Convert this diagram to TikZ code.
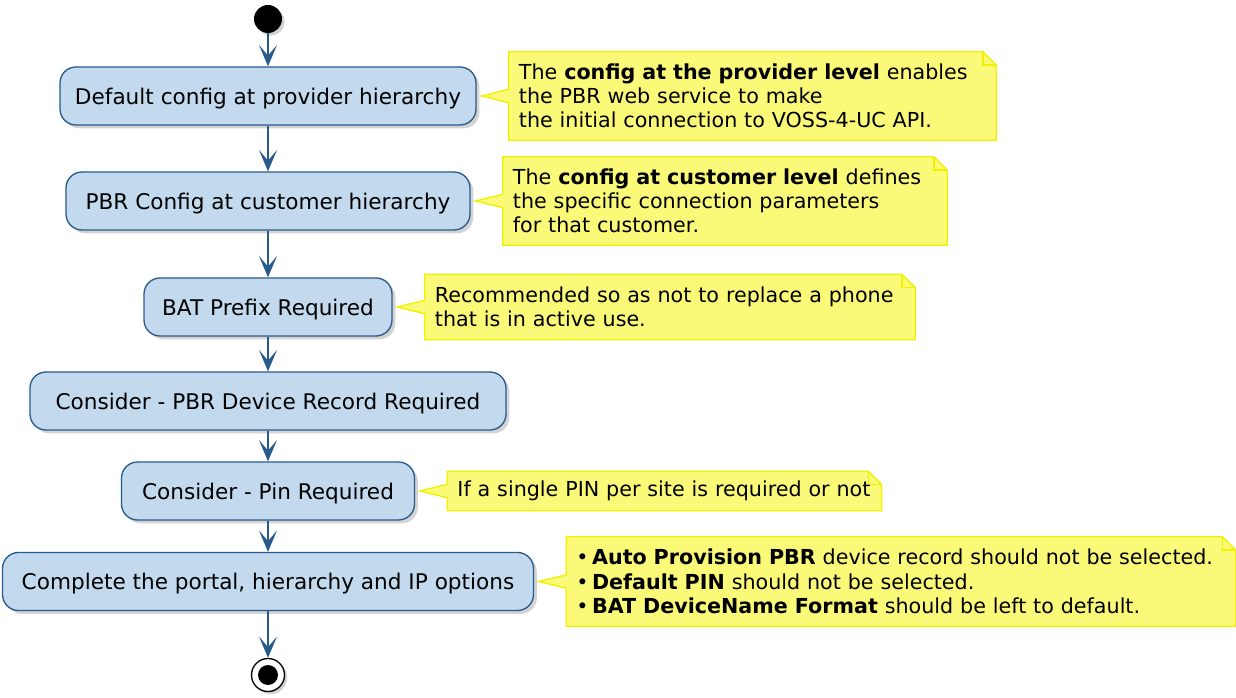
\documentclass[tikz,border=0pt]{standalone}
\usepackage{fontspec}
\setmainfont{DejaVu Sans}
\usetikzlibrary{arrows.meta,positioning,shadows,backgrounds}
\definecolor{stepblue}{RGB}{195,218,238}
\definecolor{lineblue}{RGB}{40,90,140}
\definecolor{notefill}{RGB}{250,250,120}
\definecolor{noteline}{RGB}{240,240,0}
\tikzset{
 stepbox/.style={
 rectangle,
 rounded corners=12pt,
 draw=lineblue,
 fill=stepblue,
 line width=1pt,
 align=center,
 minimum height=43.5pt,
 inner sep=0pt,
 text height=12.5pt,
 text depth=0pt,
 drop shadow={shadow xshift=2.5pt, shadow yshift=-2.5pt, opacity=0.35},
 font=\fontsize{16.2}{19}\selectfont
 },
 notebox/.style={
 rectangle,
 align=left,
 inner xsep=7.5pt,
 inner ysep=0pt,
 font=\fontsize{15.5}{18.2}\selectfont
 },
 notecall/.style={fill=notefill, draw=noteline, line width=1pt, line join=miter},
 flowarrow/.style={-{Stealth[length=16pt, width=13.5pt, inset=8pt]}, line width=1.5pt, draw=lineblue, fill=lineblue}
}

\begin{document}
\begin{tikzpicture}[x=0.75pt, y=-0.75pt, node distance=24pt]
 \useasboundingbox (0,0) rectangle (1236,698);

 \node[circle, fill=black, minimum size=21pt, inner sep=0pt,
 drop shadow={shadow xshift=2pt, shadow yshift=-2pt, opacity=0.35}] (start) at (268,19) {};

 \node[stepbox, minimum width=312pt] (b1) at (268,96) {Default config at provider hierarchy};
 \node[stepbox, minimum width=303pt] (b2) at (268,201) {PBR Config at customer hierarchy};
 \node[stepbox, minimum width=186pt] (b3) at (268,307) {BAT Prefix Required};
 \node[stepbox, minimum width=357pt] (b4) at (268,401) {Consider - PBR Device Record Required};
 \node[stepbox, minimum width=219.75pt] (b5) at (268,491) {Consider - Pin Required};
 \node[stepbox, minimum width=398.25pt] (b6) at (268,581.5) {Complete the portal, hierarchy and IP options};

 \node[circle, draw=black, line width=1pt, fill=white, minimum size=24.75pt, inner sep=0pt,
 drop shadow={shadow xshift=2pt, shadow yshift=-2pt, opacity=0.35}] (stop) at (268,675) {};
 \node[circle, fill=black, minimum size=15pt, inner sep=0pt] (stopdot) at (stop) {};

 \node[notebox, text width=350.25pt, minimum height=66pt, right=of b1] (n1)
 {The \textbf{config at the provider level} enables\\the PBR web service to make\\the initial connection to VOSS-4-UC API.};
 \node[notebox, text width=318pt, minimum height=66pt, right=of b2] (n2)
 {The \textbf{config at customer level} defines\\the specific connection parameters\\for that customer.};
 \node[notebox, text width=352.5pt, minimum height=48.75pt, right=of b3] (n3)
 {Recommended so as not to replace a phone\\that is in active use.};
 \node[notebox, text width=310.5pt, minimum height=29.25pt, right=of b5] (n5)
 {If a single PIN per site is required or not};
 \node[notebox, text width=486.75pt, minimum height=66.75pt, right=of b6] (n6)
 {\textbullet\,\textbf{Auto Provision PBR} device record should not be selected.\\
 \textbullet\,\textbf{Default PIN} should not be selected.\\
 \textbullet\,\textbf{BAT DeviceName Format} should be left to default.};

 \begin{scope}[on background layer]
 \foreach \b/\n in {b1/n1,b2/n2,b3/n3,b5/n5,b6/n6}{
 \filldraw[notecall] (\n.north west) -- ([xshift=-10pt]\n.north east) -- ([yshift=-10pt]\n.north east)
 -- (\n.south east) -- (\n.south west) -- ([yshift=-5pt]\n.west) -- ([xshift=3.5pt]\b.east)
 -- ([yshift=5pt]\n.west) -- cycle;
 \draw[notecall, fill=none] ([xshift=-10pt]\n.north east) |- ([yshift=-10pt]\n.north east);
 }
 \end{scope}

 \draw[flowarrow] (start) -- (b1);
 \draw[flowarrow] (b1) -- (b2);
 \draw[flowarrow] (b2) -- (b3);
 \draw[flowarrow] (b3) -- (b4);
 \draw[flowarrow] (b4) -- (b5);
 \draw[flowarrow] (b5) -- (b6);
 \draw[flowarrow] (b6) -- (stop);
\end{tikzpicture}
\end{document}
